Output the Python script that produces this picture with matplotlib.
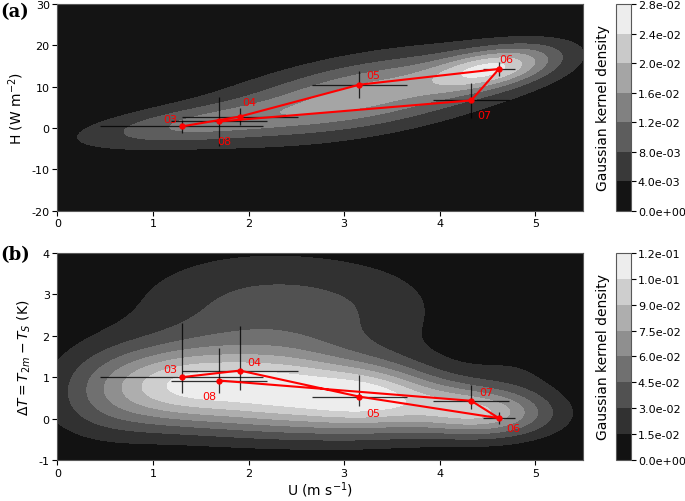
import numpy as np
import matplotlib
matplotlib.use('Agg')
import matplotlib.pyplot as plt
from matplotlib.ticker import FormatStrFormatter

plt.rcParams['axes.unicode_minus'] = False

# monthly means (month label, U, H, dT)
months = ['03', '04', '05', '06', '07', '08']
u_mean = [1.30, 1.91, 3.16, 4.62, 4.33, 1.69]
u_err = [0.85, 0.61, 0.50, 0.17, 0.40, 0.50]
h_mean = [0.4, 2.8, 10.5, 14.3, 6.7, 1.6]
h_err = [1.5, 2.0, 3.3, 1.7, 4.2, 5.9]
dt_mean = [1.00, 1.16, 0.53, 0.01, 0.43, 0.92]
dt_err_lo = [0.38, 0.46, 0.22, 0.15, 0.20, 0.31]
dt_err_hi = [1.30, 1.08, 0.52, 0.16, 0.37, 0.78]

# gaussian components: u0, v0, su, sv, rho, amp
kde_a = [(4.58, 14.6, 0.45, 3.60, 0.47, 0.018),
         (3.30, 8.5, 0.90, 6.45, 0.52, 0.012),
         (1.40, 0.8, 0.80, 3.60, 0.55, 0.009),
         (3.00, 7.0, 1.50, 8.75, 0.60, 0.0055)]
kde_b = [(1.30, 0.80, 0.55, 0.60, 0.0, 0.080),
         (2.35, 0.75, 0.55, 0.60, 0.0, 0.075),
         (3.30, 0.58, 0.50, 0.55, 0.0, 0.080),
         (4.05, 0.35, 0.40, 0.45, 0.0, 0.030),
         (4.55, 0.12, 0.45, 0.40, 0.0, 0.062),
         (0.50, 0.65, 0.45, 0.75, 0.0, 0.028),
         (2.00, 1.60, 0.90, 0.60, 0.0, 0.020),
         (2.20, 2.80, 1.00, 0.90, 0.0, 0.032),
         (3.40, 2.60, 0.60, 0.80, 0.0, 0.008),
         (4.80, 1.10, 0.40, 0.60, 0.0, 0.012),
         (2.60, 0.00, 1.30, 0.50, 0.0, 0.030)]

levels_a = np.linspace(0, 0.028, 8)
levels_b = np.linspace(0, 0.12, 9)


def density(comps, X, Y):
    Z = np.zeros_like(X)
    for u0, v0, su, sv, r, amp in comps:
        dx = (X - u0) / su
        dy = (Y - v0) / sv
        q = (dx**2 - 2 * r * dx * dy + dy**2) / (1 - r**2)
        Z += amp * np.exp(-0.5 * q)
    return Z


fig = plt.figure(figsize=(6.85, 5.02), dpi=100)
ax_a = fig.add_axes([0.0837, 0.578, 0.7675, 0.412])
ax_b = fig.add_axes([0.0837, 0.0817, 0.7675, 0.4123])
cax_a = fig.add_axes([0.899, 0.578, 0.022, 0.412])
cax_b = fig.add_axes([0.899, 0.0817, 0.022, 0.4123])

ux = np.linspace(0, 5.5, 400)
X, Y = np.meshgrid(ux, np.linspace(-20, 30, 400))
Za = density(kde_a, X, Y)
Xb, Yb = np.meshgrid(ux, np.linspace(-1, 4, 400))
Zb = density(kde_b, Xb, Yb)

gray_a = [str(g) for g in np.linspace(0.08, 0.93, len(levels_a) - 1)]
gray_b = [str(g) for g in np.linspace(0.07, 0.93, len(levels_b) - 1)]

cs_a = ax_a.contourf(X, Y, np.clip(Za, 0, levels_a[-1] * 0.999), levels=levels_a, colors=gray_a)
cs_b = ax_b.contourf(Xb, Yb, np.clip(Zb, 0, levels_b[-1] * 0.999), levels=levels_b, colors=gray_b)

# error bars and monthly track
ax_a.errorbar(u_mean, h_mean, xerr=u_err, yerr=h_err, fmt='none', ecolor='k', elinewidth=0.9, alpha=0.8)
ax_a.plot(u_mean, h_mean, 'r-o', lw=1.5, ms=3.5)
ax_b.errorbar(u_mean, dt_mean, xerr=u_err, yerr=[dt_err_lo, dt_err_hi], fmt='none', ecolor='k', elinewidth=0.9, alpha=0.8)
ax_b.plot(u_mean, dt_mean, 'r-o', lw=1.5, ms=3.5)

# label offsets in points
off_a = [(-13, 3), (2, 8), (5, 5), (0, 5), (4, -13), (-1, -16)]
off_b = [(-13, 4), (5, 4), (5, -14), (5, -9), (6, 4), (-12, -13)]
for i, m in enumerate(months):
    ax_a.annotate(m, (u_mean[i], h_mean[i]), xytext=off_a[i], textcoords='offset points',
                  color='r', fontsize=8)
    ax_b.annotate(m, (u_mean[i], dt_mean[i]), xytext=off_b[i], textcoords='offset points',
                  color='r', fontsize=8)

ax_a.set_xlim(0, 5.5)
ax_a.set_ylim(-20, 30)
ax_a.set_yticks([-20, -10, 0, 10, 20, 30])
ax_a.set_ylabel('H (W m$^{-2}$)', fontsize=10)
ax_b.set_xlim(0, 5.5)
ax_b.set_ylim(-1, 4)
ax_b.set_ylabel(r'$\Delta T = T_{2m} - T_S$ (K)', fontsize=10)
ax_b.set_xlabel('U (m s$^{-1}$)', fontsize=10, labelpad=1)
for ax in (ax_a, ax_b):
    ax.tick_params(labelsize=8, length=3.5, pad=2)
    for s in ax.spines.values():
        s.set_color('0.35')

cb_a = fig.colorbar(cs_a, cax=cax_a, ticks=levels_a, format=FormatStrFormatter('%.1e'))
cb_b = fig.colorbar(cs_b, cax=cax_b, ticks=levels_b, format=FormatStrFormatter('%.1e'))
for cb in (cb_a, cb_b):
    cb.set_label('Gaussian kernel density', fontsize=10, labelpad=4)
    cb.ax.yaxis.set_label_position('left')
    cb.ax.tick_params(labelsize=8, length=3.5, pad=1.5)
    cb.outline.set_edgecolor('0.35')

fig.text(0.0, 0.975, '(a)', fontsize=13, fontweight='bold', family='serif', va='center')
fig.text(0.0, 0.492, '(b)', fontsize=13, fontweight='bold', family='serif', va='center')

fig.savefig('out.png', dpi=100)
